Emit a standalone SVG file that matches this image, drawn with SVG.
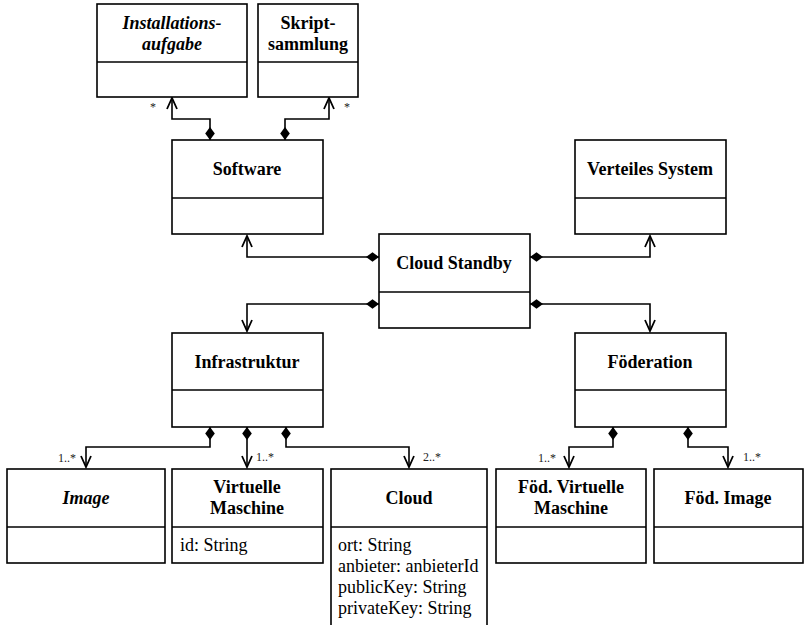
<svg xmlns="http://www.w3.org/2000/svg" width="804" height="625" viewBox="0 0 804 625">
<style>
.box{fill:#fff;stroke:#000;stroke-width:1.6}
.div{stroke:#000;stroke-width:1.6}
.t{font-family:"Liberation Serif","Times New Roman",serif;font-size:18px;font-weight:bold;text-anchor:middle;fill:#000}
.ti{font-style:italic}
.a{font-family:"Liberation Serif","Times New Roman",serif;font-size:18px;fill:#000}
.m{font-family:"Liberation Serif","Times New Roman",serif;font-size:12px;fill:#222}
.c{fill:none;stroke:#000;stroke-width:1.6;marker-start:url(#dia);marker-end:url(#arr)}
</style>
<defs>
<marker id="dia" markerUnits="userSpaceOnUse" markerWidth="16" markerHeight="12" refX="0" refY="0" viewBox="-1 -6 16 12" orient="auto" overflow="visible">
<path d="M0,0 L6.5,-4.8 L13,0 L6.5,4.8 Z" fill="#000"/>
</marker>
<marker id="arr" markerUnits="userSpaceOnUse" markerWidth="14" markerHeight="14" refX="0" refY="0" viewBox="-12 -7 14 14" orient="auto" overflow="visible">
<path d="M-11,-5 L0,0 L-11,5" fill="none" stroke="#000" stroke-width="1.8"/>
</marker>
</defs>
<rect width="804" height="625" fill="#fff"/>
<g id="connectors">
<path class="c" d="M210,140 V119 H172 V98"/>
<path class="c" d="M285,140 V119 H329 V98"/>
<path class="c" d="M379,257 H247 V236"/>
<path class="c" d="M530,257 H650 V236"/>
<path class="c" d="M379,304 H247 V331"/>
<path class="c" d="M530,304 H650 V331"/>
<path class="c" d="M210,427 V447 H86 V467"/>
<path class="c" d="M247,427 V467"/>
<path class="c" d="M286,427 V447 H409 V467"/>
<path class="c" d="M613,427 V447 H569 V467"/>
<path class="c" d="M688,427 V447 H728 V467"/>
<text class="m" x="153" y="111" text-anchor="middle">*</text>
<text class="m" x="347" y="111" text-anchor="middle">*</text>
<text class="m" x="76" y="462" text-anchor="end">1..*</text>
<text class="m" x="256" y="461">1..*</text>
<text class="m" x="423" y="461">2..*</text>
<text class="m" x="556" y="462" text-anchor="end">1..*</text>
<text class="m" x="743" y="461">1..*</text>
</g>
<g id="installationsaufgabe">
<rect class="box" x="97" y="4" width="150" height="93"/>
<line class="div" x1="97" y1="62" x2="247" y2="62"/>
<text class="t ti" x="172" y="29">Installations-</text>
<text class="t ti" x="172" y="50">aufgabe</text>
</g>
<g id="skriptsammlung">
<rect class="box" x="258" y="4" width="100" height="93"/>
<line class="div" x1="258" y1="62" x2="358" y2="62"/>
<text class="t" x="308" y="29">Skript-</text>
<text class="t" x="308" y="50">sammlung</text>
</g>
<g id="software">
<rect class="box" x="172" y="140" width="151" height="94"/>
<line class="div" x1="172" y1="198" x2="323" y2="198"/>
<text class="t" x="247" y="175">Software</text>
</g>
<g id="verteiles-system">
<rect class="box" x="575" y="140" width="151" height="94"/>
<line class="div" x1="575" y1="198" x2="726" y2="198"/>
<text class="t" x="650" y="175">Verteiles System</text>
</g>
<g id="cloud-standby">
<rect class="box" x="379" y="234" width="151" height="94"/>
<line class="div" x1="379" y1="292" x2="530" y2="292"/>
<text class="t" x="454" y="269">Cloud Standby</text>
</g>
<g id="infrastruktur">
<rect class="box" x="172" y="333" width="151" height="94"/>
<line class="div" x1="172" y1="390" x2="323" y2="390"/>
<text class="t" x="247" y="368">Infrastruktur</text>
</g>
<g id="foederation">
<rect class="box" x="575" y="333" width="151" height="94"/>
<line class="div" x1="575" y1="390" x2="726" y2="390"/>
<text class="t" x="650" y="368">Föderation</text>
</g>
<g id="image">
<rect class="box" x="7" y="469" width="158" height="94"/>
<line class="div" x1="7" y1="527" x2="165" y2="527"/>
<text class="t ti" x="86" y="504">Image</text>
</g>
<g id="virtuelle-maschine">
<rect class="box" x="172" y="469" width="151" height="94"/>
<line class="div" x1="172" y1="527" x2="323" y2="527"/>
<text class="t" x="247" y="493">Virtuelle</text>
<text class="t" x="247" y="514">Maschine</text>
<text class="a" x="180" y="551">id: String</text>
</g>
<g id="cloud">
<rect class="box" x="331" y="469" width="156" height="180"/>
<line class="div" x1="331" y1="527" x2="487" y2="527"/>
<text class="t" x="409" y="504">Cloud</text>
<text class="a" x="338" y="551">ort: String</text>
<text class="a" x="338" y="572">anbieter: anbieterId</text>
<text class="a" x="338" y="593">publicKey: String</text>
<text class="a" x="338" y="614">privateKey: String</text>
</g>
<g id="foed-virtuelle-maschine">
<rect class="box" x="496" y="469" width="150" height="94"/>
<line class="div" x1="496" y1="527" x2="646" y2="527"/>
<text class="t" x="571" y="493">Föd. Virtuelle</text>
<text class="t" x="571" y="514">Maschine</text>
</g>
<g id="foed-image">
<rect class="box" x="654" y="469" width="149" height="94"/>
<line class="div" x1="654" y1="527" x2="803" y2="527"/>
<text class="t" x="728" y="504">Föd. Image</text>
</g>
</svg>
